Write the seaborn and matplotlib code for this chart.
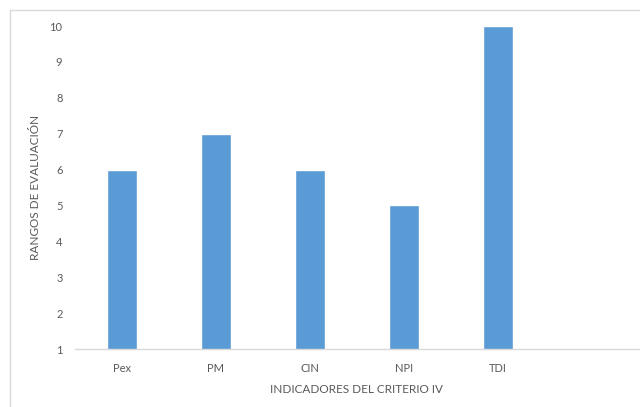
import matplotlib
matplotlib.use("Agg")
import matplotlib.pyplot as plt
import seaborn as sns
import pandas as pd
from matplotlib.lines import Line2D

categories = ["Pex", "PM", "CIN", "NPI", "TDI"]
values = [6, 7, 6, 5, 10]
y_ticks = [1, 2, 3, 4, 5, 6, 7, 8, 9, 10]

sns.set_theme(style="white")
plt.rcParams['font.family'] = ['Lato', 'DejaVu Sans']

df = pd.DataFrame({"cat": categories, "val": values})

fig = plt.figure(figsize=(6.4, 4.07), dpi=100)
ax = fig.add_axes([75/640, 1-349/407, (639-75)/640, (349-26)/407])

sns.barplot(data=df, x="cat", y="val", color="#5B9BD5", saturation=1,
            width=0.32, ax=ax)

ax.set_xlim(-0.5, 5.5)
ax.set_ylim(1, 10)
ax.set_yticks(y_ticks)
ax.set_yticklabels([str(t) for t in y_ticks])
for s in ["top", "right", "left"]:
    ax.spines[s].set_visible(False)
ax.spines["bottom"].set_color("#D9D9D9")
ax.spines["bottom"].set_linewidth(1.0)
ax.tick_params(axis="both", length=0, colors="#595959", labelsize=8)
ax.tick_params(axis="y", pad=9)
ax.tick_params(axis="x", pad=10)
ax.set_xlabel("INDICADORES DEL CRITERIO IV", fontsize=8.5, color="#595959", labelpad=7)
ax.set_ylabel("RANGOS DE EVALUACIÓN", fontsize=8.5, color="#595959", labelpad=6)
ax.grid(False)

# outer chart border (top and left)
fig.add_artist(Line2D([10/640, 1], [1-10/407, 1-10/407], color="#D9D9D9", lw=1, transform=fig.transFigure))
fig.add_artist(Line2D([10/640, 10/640], [0, 1-10/407], color="#D9D9D9", lw=1, transform=fig.transFigure))

fig.savefig("out.png", dpi=100)
